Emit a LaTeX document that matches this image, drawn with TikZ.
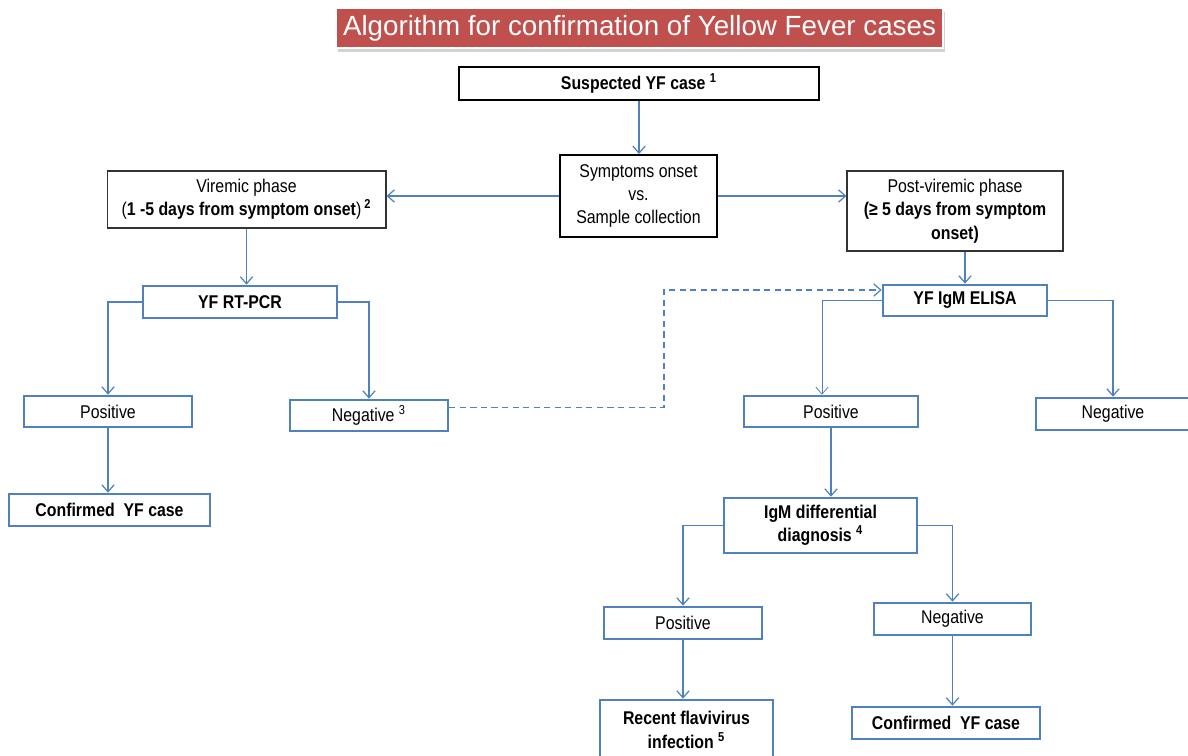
\documentclass[tikz,border=0pt]{standalone}
\usepackage{fontspec}
\setmainfont{Liberation Sans}[FakeStretch=0.86]
\newfontfamily\titlefont{Liberation Sans}
\usetikzlibrary{arrows.meta,shadows}

\definecolor{yfred}{RGB}{192,80,77}
\definecolor{yfblue}{RGB}{79,129,189}

\tikzset{
	blackbox/.style={draw=black, line width=1.1pt, fill=white, align=center, inner sep=1pt},
	thinbox/.style={draw=black!80, line width=0.6pt, fill=white, align=center, inner sep=1pt},
	bluebox/.style={draw=yfblue, line width=1.5pt, fill=white, align=center, inner sep=1pt},
	link/.style={draw=yfblue, line width=0.7pt, -{Straight Barb[length=4pt,width=7pt]}},
	thinlink/.style={link, line width=0.45pt},
	dashlink/.style={link, dash pattern=on 3.5pt off 2.5pt}
}

\begin{document}
\begin{tikzpicture}[x=0.02cm, y=-0.02cm,
	font=\fontsize{10.5}{13.3}\selectfont]
	% 设置画布大小
	\useasboundingbox (0,0) rectangle (1188,755);
	
	% 标题
	\node[draw=white, line width=0.8pt, fill=yfred, text=white,
		minimum width=12.14cm, minimum height=0.8cm,
		drop shadow={shadow xshift=1pt, shadow yshift=-2pt, fill=black!35}]
		(title) at (639.5,28) {\titlefont\fontsize{15.8}{18}\selectfont Algorithm for confirmation of Yellow Fever cases};
	
	% 第一层：疑似病例与采样时间
	\node[blackbox, minimum width=7.2cm, minimum height=0.66cm] (susp) at (639,83.5)
		{\textbf{Suspected YF case \textsuperscript{1}}};
	\node[blackbox, minimum width=3.14cm, minimum height=1.64cm] (symp) at (638.5,196)
		{Symptoms onset\\vs.\\Sample collection};
	
	% 第二层：病毒血症期与后期
	\node[thinbox, minimum width=5.58cm, minimum height=1.14cm] (viremic) at (246.5,199.5)
		{Viremic phase\\(\textbf{1 -5 days from symptom onset})\,\textsuperscript{\textbf{2}}};
	\node[thinbox, minimum width=4.32cm, minimum height=1.6cm] (post) at (955,211)
		{Post-viremic phase\\\textbf{(≥ 5 days from symptom}\\\textbf{onset)}};
	
	% 第三层：检测方法
	\node[bluebox, minimum width=3.88cm, minimum height=0.64cm] (rtpcr) at (240,302)
		{\textbf{YF RT-PCR}};
	\node[bluebox, minimum width=3.28cm, minimum height=0.62cm] (elisa) at (965,300.5)
		{\textbf{YF IgM ELISA}};
	
	% 第四层：检测结果
	\node[bluebox, minimum width=3.36cm, minimum height=0.62cm] (pcrpos) at (108,411.5) {Positive};
	\node[bluebox, minimum width=3.16cm, minimum height=0.62cm] (pcrneg) at (369,415.5)
		{Negative \textsuperscript{3}};
	\node[bluebox, minimum width=4.02cm, minimum height=0.64cm] (pcrconf) at (109.5,510)
		{\textbf{Confirmed\ \ YF case}};
	\node[bluebox, minimum width=3.48cm, minimum height=0.62cm] (elisapos) at (831,411.5) {Positive};
	\node[bluebox, minimum width=3.08cm, minimum height=0.64cm] (elisaneg) at (1113,414) {Negative};
	
	% 第五层：鉴别诊断
	\node[bluebox, minimum width=3.86cm, minimum height=1.1cm] (difdiag) at (820.5,525.5)
		{\textbf{IgM differential}\\\textbf{diagnosis \textsuperscript{4}}};
	\node[bluebox, minimum width=3.16cm, minimum height=0.64cm] (difpos) at (683,623) {Positive};
	\node[bluebox, minimum width=3.14cm, minimum height=0.64cm] (difneg) at (952.5,619) {Negative};
	\node[bluebox, minimum width=3.46cm, minimum height=1.2cm] (recent) at (686.5,730)
		{\textbf{Recent flavivirus}\\\textbf{infection \textsuperscript{5}}};
	\node[bluebox, minimum width=3.76cm, minimum height=0.64cm] (conf) at (946,723)
		{\textbf{Confirmed\ \ YF case}};
	
	% 连线
	\draw[link] (susp.south) -- (susp.south |- symp.north);
	\draw[link] (symp.west) -- (symp.west -| viremic.east);
	\draw[link] (symp.east) -- (symp.east -| post.west);
	\draw[link] (viremic.south) -- (viremic.south |- rtpcr.north);
	\draw[link] (rtpcr.west) -| (pcrpos.north);
	\draw[link] (rtpcr.east) -| (pcrneg.north);
	\draw[link] (pcrpos.south) -- (pcrpos.south |- pcrconf.north);
	\coordinate (bend) at (664,290);
	\draw[dashlink] ([yshift=0.16cm]pcrneg.east) -| (bend) -- (bend -| elisa.west);
	\draw[link] (elisa.north |- post.south) -- (elisa.north);
	\draw[thinlink] (elisa.west) -| ([xshift=-0.18cm]elisapos.north);
	\draw[link] (elisa.east) -| (elisaneg.north);
	\draw[link] (elisapos.south) -- (elisapos.south |- difdiag.north);
	\draw[link] (difdiag.west) -| (difpos.north);
	\draw[link] (difdiag.east) -| (difneg.north);
	\draw[link] (difpos.south) -- (difpos.south |- recent.north);
	\draw[link] (difneg.south) -- (difneg.south |- conf.north);
\end{tikzpicture}
\end{document}
